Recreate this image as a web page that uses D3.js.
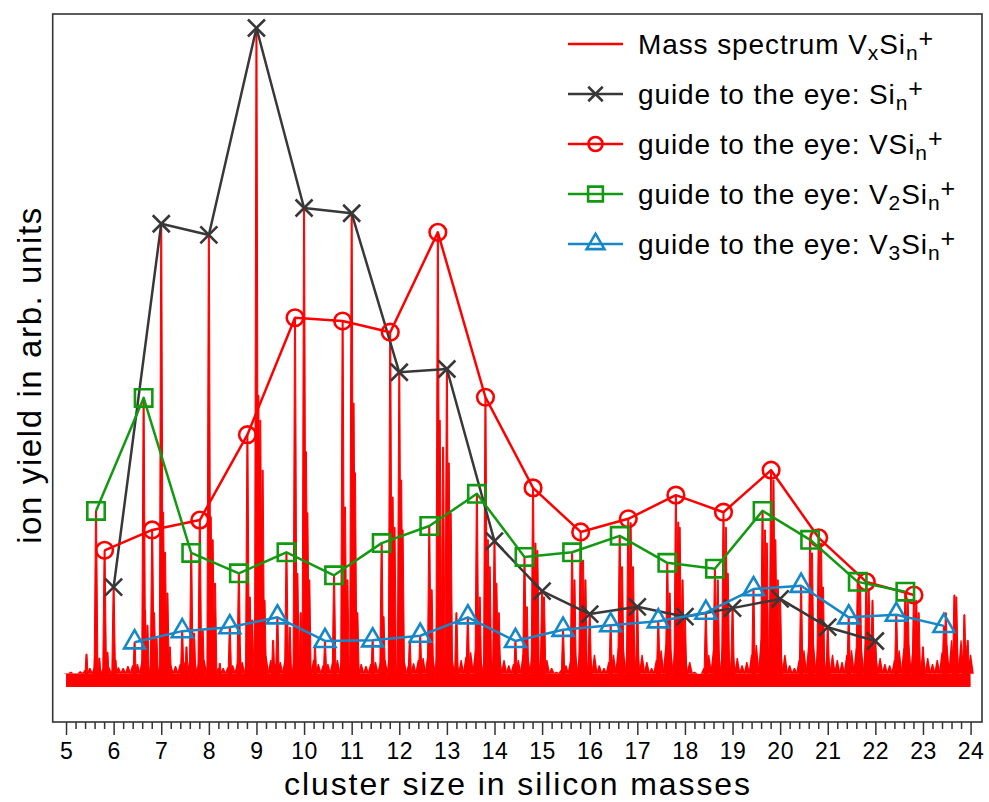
<!DOCTYPE html>
<html>
<head>
<meta charset="utf-8">
<script src="https://cdn.jsdelivr.net/npm/d3@7"></script>
<style>
body { margin: 0; background: #fff; }
svg text { font-family: "Liberation Sans", Arial, sans-serif; fill: #000; }
</style>
</head>
<body>
<svg id="chart" width="989" height="802"></svg>
<script>
// guide-to-the-eye series (mass in Si units, intensity normalised to the Si9+ peak)
var siMass = [6, 7, 8, 9, 10, 11, 12, 13, 14, 15, 16, 17, 18, 19, 20, 21, 22];
var siY = [0.149, 0.702, 0.685, 1.000, 0.726, 0.718, 0.476, 0.481, 0.219, 0.143, 0.108, 0.119, 0.104, 0.117, 0.131, 0.088, 0.067];

var vsiMass = [5.81, 6.81, 7.81, 8.81, 9.81, 10.81, 11.81, 12.81, 13.81, 14.81, 15.81, 16.81, 17.81, 18.81, 19.81, 20.81, 21.81, 22.81];
var vsiY = [0.205, 0.236, 0.251, 0.381, 0.559, 0.554, 0.537, 0.689, 0.438, 0.300, 0.233, 0.253, 0.289, 0.263, 0.327, 0.224, 0.157, 0.137];

var v2siMass = [5.63, 6.63, 7.63, 8.63, 9.63, 10.63, 11.63, 12.63, 13.63, 14.63, 15.63, 16.63, 17.63, 18.63, 19.63, 20.63, 21.63, 22.63];
var v2siY = [0.265, 0.437, 0.201, 0.170, 0.202, 0.167, 0.216, 0.242, 0.291, 0.195, 0.202, 0.227, 0.186, 0.177, 0.265, 0.221, 0.157, 0.142];

var v3siMass = [6.44, 7.44, 8.44, 9.44, 10.44, 11.44, 12.44, 13.44, 14.44, 15.44, 16.44, 17.44, 18.44, 19.44, 20.44, 21.44, 22.44, 23.44];
var v3siY = [0.065, 0.082, 0.088, 0.103, 0.067, 0.068, 0.075, 0.103, 0.067, 0.084, 0.091, 0.097, 0.110, 0.146, 0.151, 0.103, 0.107, 0.090];

// mass spectrum: resolved peaks [mass, intensity]
var peaks = [
  [5.43,0.047],[5.61,0.043],[5.63,0.265],[5.70,0.041],[5.81,0.205],[5.87,0.050],
  [6.00,0.149],[6.04,0.038],[6.44,0.065],[6.63,0.437],[6.66,0.114],[6.71,0.091],[6.81,0.236],[6.85,0.110],[6.90,0.072],
  [7.00,0.702],[7.04,0.263],[7.08,0.202],[7.13,0.140],[7.18,0.058],[7.44,0.082],[7.53,0.058],[7.63,0.201],[7.69,0.079],[7.81,0.251],[7.87,0.084],
  [8.00,0.685],[8.04,0.256],[8.08,0.221],[8.13,0.155],[8.23,0.033],[8.44,0.088],[8.63,0.170],[8.65,0.058],[8.81,0.381],[8.86,0.134],[8.91,0.099],
  [9.00,1.000],[9.04,0.441],[9.08,0.403],[9.13,0.327],[9.17,0.129],[9.35,0.068],[9.44,0.103],[9.63,0.202],[9.70,0.088],[9.81,0.559],[9.86,0.170],[9.93,0.110],
  [10.00,0.726],[10.04,0.355],[10.07,0.262],[10.11,0.160],[10.23,0.058],[10.44,0.067],[10.63,0.167],[10.81,0.554],[10.86,0.271],[10.91,0.160],
  [11.00,0.718],[11.04,0.429],[11.07,0.323],[11.12,0.110],[11.44,0.068],[11.63,0.216],[11.67,0.104],[11.81,0.537],[11.86,0.286],[11.90,0.240],
  [12.00,0.476],[12.04,0.312],[12.07,0.236],[12.22,0.068],[12.44,0.075],[12.63,0.242],[12.68,0.145],[12.81,0.689],[12.85,0.403],[12.92,0.362],
  [13.00,0.481],[13.04,0.338],[13.08,0.262],[13.20,0.110],[13.44,0.103],[13.63,0.291],[13.69,0.134],[13.81,0.438],[13.86,0.221],[13.90,0.180],
  [14.00,0.219],[14.04,0.155],[14.09,0.110],[14.44,0.067],[14.63,0.195],[14.68,0.119],[14.81,0.300],[14.86,0.216],[14.90,0.205],
  [15.00,0.143],[15.04,0.134],[15.44,0.084],[15.63,0.202],[15.68,0.160],[15.81,0.233],[15.86,0.190],[15.91,0.160],
  [16.00,0.108],[16.44,0.091],[16.63,0.227],[16.68,0.180],[16.81,0.253],[16.86,0.247],[16.91,0.180],
  [17.00,0.119],[17.44,0.097],[17.63,0.186],[17.68,0.140],[17.81,0.289],[17.86,0.248],[17.89,0.240],[17.95,0.160],
  [18.00,0.104],[18.44,0.110],[18.63,0.177],[18.69,0.160],[18.81,0.263],[18.86,0.240],[18.90,0.170],
  [19.00,0.117],[19.44,0.146],[19.63,0.265],[19.68,0.236],[19.72,0.216],[19.81,0.327],[19.86,0.312],[19.90,0.221],[19.95,0.160],
  [20.00,0.131],[20.44,0.151],[20.63,0.222],[20.67,0.201],[20.81,0.224],[20.86,0.216],[20.90,0.149],
  [21.00,0.088],[21.44,0.103],[21.63,0.157],[21.68,0.149],[21.81,0.157],[21.86,0.145],[21.94,0.129],
  [22.00,0.067],[22.44,0.107],[22.63,0.142],[22.68,0.129],[22.81,0.137],[22.86,0.129],[22.91,0.110],
  [23.00,0.058],[23.44,0.090],[23.48,0.110],[23.66,0.137],[23.70,0.134],[23.87,0.107],[23.94,0.068]
];

// mass spectrum: noise/grass level, one value every 0.1 mass from 5.0 to 24.0
var grassStart = 5.0, grassStep = 0.1;
var grassTop = [
  .018,.020,.018,.021,.023,.026,.027,.029,.030,.027,
  .026,.027,.026,.029,.030,.032,.038,.041,.038,.035,
  .038,.035,.030,.029,.032,.035,.038,.038,.041,.038,
  .038,.035,.026,.026,.027,.030,.033,.035,.038,.035,
  .046,.050,.044,.038,.032,.035,.038,.035,.041,.044,
  .050,.046,.038,.032,.030,.032,.035,.038,.043,.038,
  .046,.041,.032,.029,.032,.035,.033,.038,.046,.041,
  .046,.038,.032,.033,.038,.041,.046,.044,.053,.050,
  .053,.046,.038,.038,.043,.050,.053,.046,.053,.050,
  .056,.050,.038,.030,.032,.038,.046,.043,.061,.056,
  .053,.038,.026,.020,.023,.030,.038,.046,.061,.053,
  .053,.046,.030,.026,.035,.046,.056,.061,.068,.061,
  .056,.046,.035,.026,.038,.053,.061,.053,.068,.061,
  .053,.035,.020,.017,.026,.046,.053,.056,.068,.061,
  .056,.041,.030,.035,.046,.061,.068,.072,.076,.068,
  .061,.046,.030,.026,.038,.053,.061,.061,.068,.061,
  .053,.046,.038,.035,.046,.053,.056,.061,.068,.068,
  .053,.041,.032,.030,.038,.053,.056,.061,.065,.061,
  .050,.041,.032,.038,.050,.061,.068,.072,.068,.061,
  .046
];

var xTicks = d3.range(5, 25);
var legendLabels = [
  [["Mass spectrum V", ""], ["x", "sub"], ["Si", ""], ["n", "sub"], ["+", "sup"]],
  [["guide to the eye: Si", ""], ["n", "sub"], ["+", "sup"]],
  [["guide to the eye: VSi", ""], ["n", "sub"], ["+", "sup"]],
  [["guide to the eye: V", ""], ["2", "sub"], ["Si", ""], ["n", "sub"], ["+", "sup"]],
  [["guide to the eye: V", ""], ["3", "sub"], ["Si", ""], ["n", "sub"], ["+", "sup"]]
];

var red = '#ff0000', gray = '#383838', green = '#119a11', blue = '#1588c9';

var svg = d3.select('#chart');
var x = d3.scaleLinear().domain([4.72, 24.24]).range([52.7, 982]);
var y = d3.scaleLinear().domain([-0.0563, 1.0213]).range([722, 14]);

var floorLevel = 0.017;
var gSpec = svg.append('g');

// solid noise floor
gSpec.append('rect')
  .attr('x', x(grassStart))
  .attr('width', x(grassStart + (grassTop.length - 1) * grassStep) - x(grassStart))
  .attr('y', y(floorLevel))
  .attr('height', y(-0.003) - y(floorLevel))
  .attr('fill', red);

// grass
gSpec.append('g').selectAll('path')
  .data(grassTop)
  .join('path')
  .attr('d', function(v, i) {
    var cx = x(grassStart + i * grassStep);
    return 'M' + (cx - 3.2) + ',' + y(floorLevel) + 'L' + (cx - 0.6) + ',' + y(v) + 'L' + (cx + 0.6) + ',' + y(v) + 'L' + (cx + 3.2) + ',' + y(floorLevel) + 'Z';
  })
  .attr('fill', red);

// peaks
gSpec.append('g').selectAll('path')
  .data(peaks)
  .join('path')
  .attr('d', function(d) {
    var cx = x(d[0]);
    return 'M' + (cx - 2) + ',' + y(0) + 'L' + (cx - 0.5) + ',' + y(d[1]) + 'L' + (cx + 0.5) + ',' + y(d[1]) + 'L' + (cx + 2) + ',' + y(0) + 'Z';
  })
  .attr('fill', red)
  .attr('stroke', red)
  .attr('stroke-width', 1)
  .attr('stroke-linejoin', 'round');

// marker shapes
var markers = {
  cross: 'M-8.5,-8.5L8.5,8.5M-8.5,8.5L8.5,-8.5',
  circle: d3.symbol().type(d3.symbolCircle).size(Math.PI * 8.3 * 8.3)(),
  square: 'M-8.7,-8.7H8.7V8.7H-8.7Z',
  triangle: 'M0,-12.1L10.5,6.05L-10.5,6.05Z'
};

var series = [
  { mass: siMass, val: siY, color: gray, marker: 'cross' },
  { mass: vsiMass, val: vsiY, color: red, marker: 'circle' },
  { mass: v2siMass, val: v2siY, color: green, marker: 'square' },
  { mass: v3siMass, val: v3siY, color: blue, marker: 'triangle' }
];

var line = d3.line().x(function(d) { return x(d[0]); }).y(function(d) { return y(d[1]); });

series.forEach(function(s) {
  var pts = d3.zip(s.mass, s.val);
  var g = svg.append('g');
  g.append('path')
    .attr('d', line(pts))
    .attr('fill', 'none')
    .attr('stroke', s.color)
    .attr('stroke-width', 2.5)
    .attr('stroke-linejoin', 'round');
  g.selectAll('path.m')
    .data(pts)
    .join('path')
    .attr('class', 'm')
    .attr('transform', function(d) { return 'translate(' + x(d[0]) + ',' + y(d[1]) + ')'; })
    .attr('d', markers[s.marker])
    .attr('fill', 'none')
    .attr('stroke', s.color)
    .attr('stroke-width', 2.6);
});

// frame
svg.append('rect')
  .attr('x', 52.7).attr('y', 14)
  .attr('width', 982 - 52.7).attr('height', 722 - 14)
  .attr('fill', 'none')
  .attr('stroke', '#333')
  .attr('stroke-width', 1.6);

// x axis, major + minor ticks
var minorTicks = d3.range(25, 121).filter(function(i) { return i % 5 !== 0; }).map(function(i) { return i / 5; });

var gMinor = svg.append('g').attr('transform', 'translate(0,722)')
  .call(d3.axisBottom(x).tickValues(minorTicks).tickSize(7).tickFormat(''));
gMinor.select('.domain').remove();

var gx = svg.append('g').attr('transform', 'translate(0,722)')
  .call(d3.axisBottom(x).tickValues(xTicks).tickSize(13).tickPadding(8).tickFormat(d3.format('d')));
gx.select('.domain').remove();
gx.selectAll('text')
  .style('font-size', '23px')
  .style('letter-spacing', '0.5px')
  .attr('fill', '#000');
svg.selectAll('.tick line').attr('stroke', '#333').attr('stroke-width', 1.5);

// axis titles
svg.append('text')
  .attr('x', 518).attr('y', 795)
  .attr('text-anchor', 'middle')
  .style('font-size', '32px')
  .style('letter-spacing', '1.9px')
  .text('cluster size in silicon masses');

svg.append('text')
  .attr('transform', 'translate(41,375) rotate(-90)')
  .attr('text-anchor', 'middle')
  .style('font-size', '33px')
  .style('letter-spacing', '1.6px')
  .text('ion yield in arb. units');

// legend
var legendKeys = [{ color: red, marker: null }].concat(series);
var shift = { '': 0, sub: 6, sup: -7 };
var sizes = { '': 28, sub: 21, sup: 25 };

legendKeys.forEach(function(s, i) {
  var cy = 44 + i * 50;
  var g = svg.append('g');
  g.append('line')
    .attr('x1', 568).attr('x2', 623)
    .attr('y1', cy).attr('y2', cy)
    .attr('stroke', s.color)
    .attr('stroke-width', 2.6);
  if (s.marker) {
    g.append('path')
      .attr('transform', 'translate(595.5,' + cy + ') scale(0.85)')
      .attr('d', markers[s.marker])
      .attr('fill', 'none')
      .attr('stroke', s.color)
      .attr('stroke-width', 3);
  }
  var t = g.append('text')
    .attr('x', 638).attr('y', cy + 10)
    .style('letter-spacing', '0.9px');
  var cur = 0;
  legendLabels[i].forEach(function(p) {
    var off = shift[p[1]];
    t.append('tspan')
      .attr('dy', off - cur)
      .style('font-size', sizes[p[1]] + 'px')
      .text(p[0]);
    cur = off;
  });
});
</script>
</body>
</html>
